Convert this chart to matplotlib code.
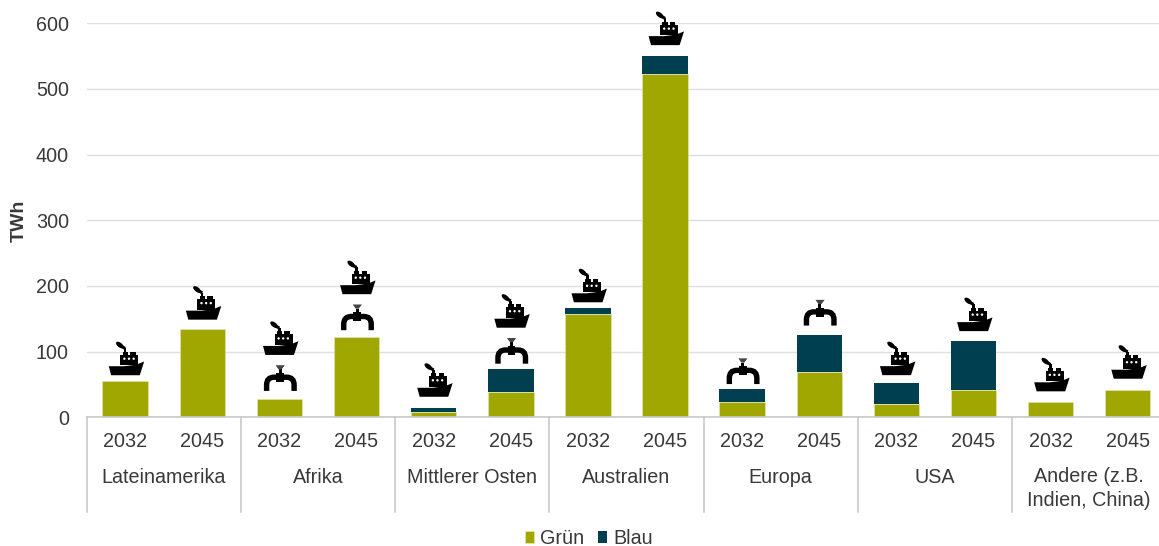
# -*- coding: utf-8 -*-
import matplotlib
matplotlib.use('Agg')
import matplotlib.pyplot as plt
import numpy as np
from matplotlib.patches import Polygon, Circle, Ellipse, PathPatch, Rectangle
from matplotlib.path import Path
from matplotlib.transforms import Affine2D

plt.rcParams['font.family'] = ['Liberation Sans', 'DejaVu Sans']

regions = ['Lateinamerika', 'Afrika', 'Mittlerer Osten', 'Australien', 'Europa', 'USA',
           'Andere (z.B.\nIndien, China)']
years = ['2032', '2045']
gruen = [56, 135, 28, 122, 8, 38, 157, 523, 24, 69, 20, 41, 23, 41]
blau = [0, 0, 0, 0, 6.5, 36, 9, 27, 19, 57, 32, 75, 0.4, 1]
# s = Schiff, p = Pipeline
transport = ['s', 's', 'sp', 'sp', 's', 'sp', 's', 's', 'p', 'p', 's', 's', 's', 's']
yticks = [0, 100, 200, 300, 400, 500, 600]

# Abstand Balken zu Symbol in Pixeln
icon_gap = [5.3, 9, 8, 7, 11, 5, 6, 11, 5, 9, 8, 10, 10.6, 11]

GREEN = '#a0a800'
BLUE = '#003f50'
TEXT = '#3b3838'
LINE = '#c9c9c9'
W, H = 1159, 546


def draw_ship(ax, px, py):
    # px, py in Pixeln: Mitte und Unterkante des Rumpfs
    t = Affine2D().translate(px, py)
    parts = [
        Polygon([(-17.4, 9), (-2, 9), (10, 10.5), (18, 13.7), (13.6, 0), (-15, 0)]),
        Rectangle((-5.9, 10), 18, 10.5),
        Rectangle((-3.6, 19), 5.4, 4.5),
        Rectangle((4, 19), 5.4, 4.5),
        Rectangle((-2.4, 22), 2.6, 5),
    ]
    for p in parts:
        p.set(facecolor='black', edgecolor='none', transform=t, clip_on=False, zorder=5)
        ax.add_patch(p)
    ax.add_patch(Ellipse((-6.3, 30.2), 9, 4.6, angle=-38, facecolor='black', edgecolor='none', transform=t,
                         clip_on=False, zorder=5))
    ax.add_patch(PathPatch(Path([(-5, 29), (-1, 26.8)]), facecolor='none', edgecolor='black', lw=2.2,
                           transform=t, clip_on=False, zorder=5))
    for dx in (-1.8, 2.8, 7.5):
        ax.add_patch(Circle((dx, 16.5), 1.2, facecolor='white', edgecolor='none', transform=t,
                            clip_on=False, zorder=6))


def draw_tap(ax, px, py):
    # px, py in Pixeln: Mitte und Unterkante der Leitung
    t = Affine2D().translate(px, py)
    verts = [(-13.5, 0), (-13.5, 6), (-13.5, 13.7), (-6, 13.7), (6.5, 13.7), (14, 13.7), (14, 6), (14, 0)]
    codes = [Path.MOVETO, Path.LINETO, Path.CURVE3, Path.CURVE3, Path.LINETO, Path.CURVE3, Path.CURVE3, Path.LINETO]
    ax.add_patch(PathPatch(Path(verts, codes), facecolor='none', edgecolor='black', lw=3.9, capstyle='butt',
                           transform=t, clip_on=False, zorder=5))
    parts = [
        (Rectangle((-3.8, 8.7), 7.6, 9), 'black'),
        (Rectangle((-1.5, 17), 3, 4.5), 'black'),
        (Polygon([(-4.5, 25.7), (4.7, 25.7), (1.5, 21.5), (-1.5, 21.5)]), '#444444'),
    ]
    for p, c in parts:
        p.set(facecolor=c, edgecolor='none', transform=t, clip_on=False, zorder=6)
        ax.add_patch(p)


fig = plt.figure(figsize=(W / 100, H / 100), dpi=100)
# Die Achse laeuft rechts etwas ueber den Bildrand hinaus
ax = fig.add_axes([86.6 / W, (H - 417.3) / H, 1079.7 / W, 394 / H])

x = np.arange(len(gruen))
ax.bar(x, gruen, width=0.59, color=GREEN, edgecolor='#e6e8c0', linewidth=0.4, zorder=3, label='Grün')
ax.bar(x, blau, width=0.59, bottom=gruen, color=BLUE, edgecolor='none', zorder=3, label='Blau')

ax.set_xlim(-0.5, len(gruen) - 0.5)
ax.set_ylim(0, 600)
ax.set_yticks(yticks)
ax.tick_params(axis='y', length=0, labelsize=14.2, labelcolor=TEXT, pad=12.7)
ax.set_xticks([])
ax.grid(axis='y', color='#e2dedb', lw=1.0, zorder=0)
ax.set_axisbelow(True)
for s in ['top', 'right', 'left']:
    ax.spines[s].set_visible(False)
ax.spines['bottom'].set_color(LINE)
ax.spines['bottom'].set_linewidth(1.2)
ax.spines['bottom'].set_zorder(4)
fig.text(19.5 / W, (H - 221) / H, 'TWh', rotation=90, ha='center', va='center', fontsize=14,
         fontweight='bold', color=TEXT)

# zweistufige Kategorienachse
trans = ax.get_xaxis_transform()
for i in range(len(regions) + 1):
    ax.plot([2 * i - 0.5] * 2, [0, -95 / 394], transform=trans, color=LINE, lw=1.2, clip_on=False)
for i, v in enumerate(x):
    ax.text(v, -24.5 / 394, years[i % 2], transform=trans, ha='center', va='center', fontsize=14.2, color=TEXT)
for i, r in enumerate(regions):
    yy = -60 / 394 if '\n' not in r else -71 / 394
    ax.text(2 * i + 0.5, yy, r, transform=trans, ha='center', va='center', fontsize=14.2, color=TEXT,
            linespacing=1.3)

# Transport-Symbole ueber den Balken
fig.canvas.draw()
for i, v in enumerate(x):
    px, py = ax.transData.transform((v, gruen[i] + blau[i]))
    py += icon_gap[i]
    if 'p' in transport[i]:
        draw_tap(ax, px + 0.7, py)
        py += 36
    if 's' in transport[i]:
        draw_ship(ax, px + 1, py)

h, l = ax.get_legend_handles_labels()
fig.legend(h, l, loc='center', bbox_to_anchor=(588.6 / W, (H - 538.5) / H), ncol=2, frameon=False, fontsize=14.2,
           labelcolor=TEXT, handlelength=0.5, handleheight=0.5, handletextpad=0.28, columnspacing=0.68,
           borderpad=0)

fig.savefig('out.png', dpi=100)
